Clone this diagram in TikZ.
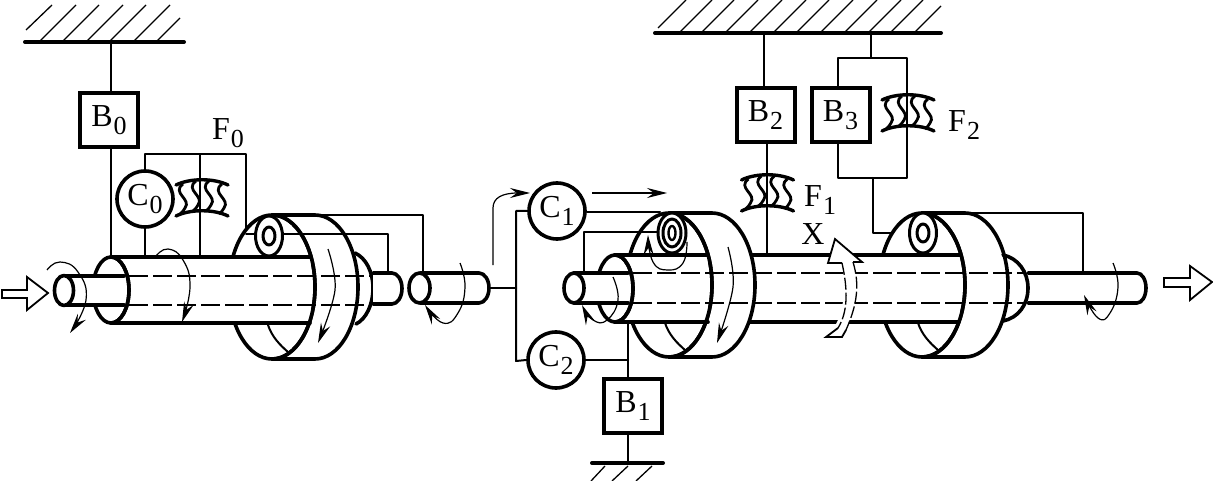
\documentclass[tikz,border=0pt]{standalone}
\usepackage{fontspec}
\setmainfont{Liberation Serif}
\usetikzlibrary{arrows.meta}
\newcommand\lab[2]{#1\kern1pt\raisebox{-8pt}{\fontsize{26}{26}\selectfont #2}}
\newcommand\drumback[2]{%
  \path[fill=white] (#1,#2-72) -- (#1+43,#2-72) arc[start angle=-90,end angle=90,x radius=43,y radius=72] -- (#1,#2+72) arc[start angle=90,end angle=270,x radius=43,y radius=72] -- cycle;
  \draw[heavy] (#1,#2-72) -- (#1+43,#2-72) arc[start angle=-90,end angle=90,x radius=43,y radius=72] -- (#1,#2+72);
  \draw[heavy] (#1,#2) ellipse[x radius=43,y radius=72];}
\newcommand\drumfront[2]{%
  \draw[heavy] (#1,#2-72) arc[start angle=-90,end angle=90,x radius=43,y radius=72];
  \draw[mid] (#1-4,#2+38) .. controls (#1,#2+50) and (#1+8,#2+58) .. (#1+16,#2+65);}
\newcommand\ringtwo[2]{%
  \draw[mid,fill=white,line width=3pt] (#1,#2) ellipse[x radius=13.5,y radius=20];
  \draw[mid,line width=3pt] (#1,#2) ellipse[x radius=6,y radius=9];}
\tikzset{
  heavy/.style={line width=3.6pt,line cap=round,line join=round},
  mid/.style={line width=2pt,line cap=round,line join=round},
  thinl/.style={line width=1.3pt},
  hatchl/.style={line width=1.3pt},
  groundl/.style={line width=4pt,line cap=round},
  axisl/.style={line width=1.1pt,dash pattern=on 19pt off 5pt},
  rot/.style={line width=1.2pt,-{Stealth[length=20pt,width=10pt,inset=7pt]}},
  boxn/.style={draw,line width=4pt,minimum width=58pt,minimum height=54pt,inner sep=0pt,font=\fontsize{32}{32}\selectfont,fill=white},
  circn/.style={draw,circle,line width=3.6pt,minimum size=56pt,inner sep=0pt,font=\fontsize{32}{32}\selectfont,fill=white},
  txt/.style={font=\fontsize{32}{32}\selectfont,inner sep=0pt},
  hollow/.style={line width=1.8pt,fill=white,line join=miter},
  fpack/.pic={
    \draw[line width=3.4pt,line cap=round] (-26,-10) .. controls (-12,-17) and (12,-17) .. (26,-10);
    \draw[line width=3.4pt,line cap=round] (-26,21) .. controls (-12,14) and (12,14) .. (26,21);
    \foreach \dx/\t/\b in {-19/-11/19,-6/-14/16,7/-14/16,20/-11/19}{
      \draw[line width=2.8pt] (\dx,\t) .. controls (\dx-12,\t+9) and (\dx+9,\t+15) .. (\dx+2,\b-6) .. controls (\dx,\b-3) and (\dx-1,\b-1) .. (\dx-3,\b);
    }
  }
}
\begin{document}
\begin{tikzpicture}[x=1pt,y=-1pt]
\useasboundingbox[fill=white] (0,0) rectangle (1213,481);

% ---------- grounds
\draw[groundl] (25,42) -- (184,42);
\foreach \a in {40,63,87,110,134}{\draw[hatchl] (\a,41) -- (\a+36,5);}
\draw[hatchl] (26,30) -- (52,5);
\draw[hatchl] (157,41) -- (180,18);
\draw[groundl] (655,33) -- (941,33);
\draw[hatchl] (658,28) -- (686,0);
\foreach \a in {680,702,726,750,774,797,821,845,869,891}{\draw[hatchl] (\a,32) -- (\a+32,0);}
\draw[hatchl] (915,32) -- (941,6);
\draw[groundl] (592,463) -- (663,463);
\draw[hatchl] (605,466) -- (591,481);
\draw[hatchl] (628,466) -- (612,481);
\draw[hatchl] (652,466) -- (636,481);

% ---------- left assembly connectors
\node[boxn] (B0) at (109,120) {\lab{B}{0}};
\node[circn] (C0) at (145,199) {\lab{C}{0}};
\draw[mid] (111,43) -- ([xshift=2pt]B0.north);
\draw[thinl] ([xshift=2pt]B0.south) -- (111,257);
\draw[mid] (C0.north) -- (145,154) -- (246,154) -- (246,234);
\draw[thinl] (200,154) -- (200,257);
\draw[mid] (C0.south) -- (145,257);
\pic at (202,195) {fpack};
\node[txt,anchor=base west] (F0) at (212,140) {\lab{F}{0}};

% left drum and tube
\drumback{272}{287}
\path[fill=white] (111,257) rectangle (311,323);
\draw[heavy] (111,257) -- (311,257);
\draw[heavy] (111,323) -- (310,323);
\draw[heavy] (355,253) .. controls (366,258) and (373,272) .. (373,288) .. controls (373,305) and (366,319) .. (356,324);
\draw[heavy,fill=white] (373,273) -- (392,273) arc[start angle=-90,end angle=90,x radius=10,y radius=15.5] -- (373,304);
\draw[axisl] (129,276) -- (372,276);
\draw[axisl] (129,305) -- (372,305);
\draw[heavy] (111,290) ellipse[x radius=18,y radius=33];
\path[fill=white] (64,276) rectangle (124,305);
\draw[heavy] (64,276) -- (124,276);
\draw[heavy] (64,305) -- (124,305);
\draw[heavy] (111,257) arc[start angle=-90,end angle=90,x radius=18,y radius=33];
\draw[heavy,fill=white] (64,290.5) ellipse[x radius=9.5,y radius=15];
\drumfront{272}{287}
\draw[mid] (320,215) -- (423,215) -- (423,273);
\draw[mid] (246,234) -- (388,234) -- (388,273);
\ringtwo{269}{236}

% middle stub
\draw[heavy] (420,273) -- (479,273) arc[start angle=-90,end angle=90,x radius=10,y radius=15] -- (420,303);
\draw[heavy,fill=white] (419.5,288) ellipse[x radius=10.5,y radius=15];

% C1, C2
\node[circn] (C1) at (557,211) {\lab{C}{1}};
\node[circn] (C2) at (556,360) {\lab{C}{2}};
\draw[mid] (489,288) -- (516,288);
\draw[mid] (C1.west) -- (516,211) -- (516,361) -- (C2.west);
\draw[rot] (493,265) -- (493,208) .. controls (493,198) and (502,193) .. (530,193);
\draw[rot] (592,193) -- (667,193);

% ---------- right assembly
\node[boxn] (B1) at (633,406) {\lab{B}{1}};
\node[boxn] (B2) at (765.5,115) {\lab{B}{2}};
\node[boxn] (B3) at (840.5,115) {\lab{B}{3}};
\draw[thinl] (764,33) -- (764,86);
\draw[mid] (871,33) -- (871,58);
\draw[mid] (838,86) -- (838,58) -- (907,58) -- (907,178) -- (838,178) -- (838,143);
\draw[mid] (767,143) -- (767,255);
\draw[mid] (873,178) -- (873,233) -- (923,233);
\pic at (767.5,190) {fpack};
\pic at (908,110) {fpack};
\node[txt,anchor=base west] (F1) at (804,207) {\lab{F}{1}};
\node[txt,anchor=base west] (F2) at (948,132) {\lab{F}{2}};
\node[txt] (X) at (813,234) {X};

% drum 3 behind tube
\drumback{922}{285}
\draw[heavy] (1003,255) .. controls (1018,258) and (1028,272) .. (1028,288) .. controls (1028,305) and (1018,318) .. (1003,321);
\draw[heavy] (1028,273) -- (1137,273) arc[start angle=-90,end angle=90,x radius=9,y radius=15] -- (1028,303);
% tube through
\path[fill=white] (615,255) rectangle (960,322);
\draw[heavy] (615,255) -- (960,255);
\draw[heavy] (615,322) -- (958,322);
\drumfront{922}{285}
% drum 2 in front
\drumback{669}{285}
\path[fill=white] (615,255) rectangle (708,322);
\draw[heavy] (615,255) -- (708,255);
\draw[heavy] (615,322) -- (708,322);
\draw[axisl] (633,273) -- (1025,273);
\draw[axisl] (633,303) -- (1025,303);
\draw[heavy] (615,288.5) ellipse[x radius=18,y radius=33.5];
\path[fill=white] (574,273) rectangle (628,303);
\draw[heavy] (574,273) -- (628,273);
\draw[heavy] (574,303) -- (628,303);
\draw[heavy] (615,255) arc[start angle=-90,end angle=90,x radius=18,y radius=33.5];
\draw[heavy,fill=white] (574,288) ellipse[x radius=10,y radius=15];
\drumfront{669}{285}

% connectors right
\draw[mid] ([yshift=-1.5pt]C1.east) -- (660,212.5);
\draw[mid] (584,273) -- (584,232) -- (672,232);
\draw[mid] (628,323) -- (628,378);
\draw[mid] (C2.east) -- (628,360);
\draw[thinl] (628,435) -- (628,463);
\draw[mid] (965,213) -- (1083,213) -- (1083,273);

% rings
\draw[mid,fill=white,line width=3pt] (672,233) ellipse[x radius=14,y radius=20];
\draw[mid,line width=3pt] (672,233) ellipse[x radius=9,y radius=14];
\draw[mid,line width=2.4pt] (672,233) ellipse[x radius=3.5,y radius=7];
\ringtwo{923}{233}

% rotation arrows
\draw[rot] plot[smooth,tension=.8] coordinates {(47,270) (60,262) (78,272) (86,300) (70,333)};
\draw[rot] plot[smooth,tension=.8] coordinates {(156,256) (168,249) (183,260) (190,287) (182,322)};
\draw[rot] plot[smooth,tension=.6] coordinates {(328,249) (335,290) (318,343)};
\draw[rot] plot[smooth,tension=.8] coordinates {(460,263) (465,287) (458,313) (443,323) (425,305)};
\draw[rot] plot[smooth,tension=.8] coordinates {(687,242) (683,263) (668,270) (653,262) (648,235)};
\draw[rot] plot[smooth,tension=.8] coordinates {(613,277) (618,300) (607,320) (593,320) (582,305)};
\draw[rot] plot[smooth,tension=.6] coordinates {(728,247) (733,287) (717,343)};
\draw[rot] plot[smooth,tension=.8] coordinates {(1113,263) (1118,287) (1110,313) (1098,318) (1084,295)};

% X arrow
\path[fill=white] (835,239) -- (862,262) -- (853,262) .. controls (860,285) and (857,305) .. (843,336) -- (826,337) .. controls (840,325) and (848,300) .. (842,263) -- (828,263) -- cycle;
\draw[line width=1.8pt,line join=miter] (842,263) -- (828,263) -- (835,239) -- (862,262) -- (853,262);
\draw[line width=1.3pt,dash pattern=on 12pt off 3pt] (842,263) .. controls (848,290) and (848,312) .. (838,328);
\draw[line width=1.3pt,dash pattern=on 12pt off 3pt] (853,262) .. controls (860,285) and (857,305) .. (846,330);
\draw[line width=1.8pt] (838,328) -- (826,337) -- (842,337) -- (846,330);

% hollow arrows
\draw[hollow] (2,290) -- (27,290) -- (27,277) -- (48,293) -- (27,310) -- (27,298) -- (2,298) -- cycle;
\draw[hollow] (1164,278) -- (1190,278) -- (1190,266) -- (1212,282) -- (1190,300) -- (1190,287) -- (1164,287) -- cycle;
\end{tikzpicture}
\end{document}
